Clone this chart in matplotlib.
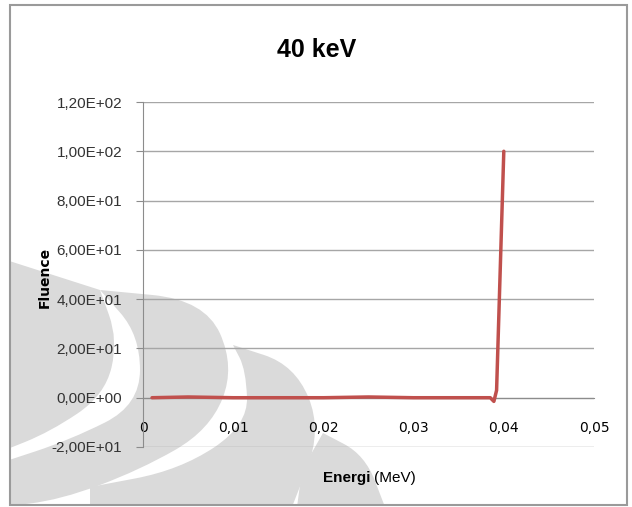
import numpy as np
import matplotlib
matplotlib.use('Agg')
import matplotlib.pyplot as plt
from matplotlib.path import Path
from matplotlib.patches import PathPatch, Rectangle

# Data (energy in MeV, fluence)
energy = [0.001, 0.005, 0.010, 0.015, 0.020, 0.025, 0.030, 0.035, 0.0385, 0.0389, 0.0392, 0.0400]
fluence = [0.0, 0.3, 0.0, 0.0, 0.0, 0.3, 0.0, 0.0, 0.0, -1.5, 3.0, 100.0]

y_ticks = [-20, 0, 20, 40, 60, 80, 100, 120]
y_ticklabels = ['-2,00E+01', '0,00E+00', '2,00E+01', '4,00E+01',
                '6,00E+01', '8,00E+01', '1,00E+02', '1,20E+02']
x_ticks = [0, 0.01, 0.02, 0.03, 0.04, 0.05]
x_ticklabels = ['0', '0,01', '0,02', '0,03', '0,04', '0,05']

W, H = 632, 507
FONT = ['Liberation Sans', 'DejaVu Sans']


def px(x, y):
    # pixel (y down) -> figure fraction
    return (x / W, 1 - y / H)


def blob(pts):
    # smooth closed shape; repeated points give sharp corners
    p = np.array([px(*q) for q in pts])
    n = len(p)
    mids = [(p[i] + p[(i + 1) % n]) / 2 for i in range(n)]
    verts = [mids[-1]]
    codes = [Path.MOVETO]
    for i in range(n):
        verts += [p[i], mids[i]]
        codes += [Path.CURVE3, Path.CURVE3]
    verts.append(mids[-1])
    codes.append(Path.CLOSEPOLY)
    return Path(verts, codes)


fig = plt.figure(figsize=(W / 100, H / 100), dpi=100)

# watermark shapes in the background
frame = Rectangle(px(10, 505), 617 / W, 500 / H, transform=fig.transFigure,
                  fill=False, ec='#9a9a9a', lw=1.5, zorder=5)
shapes = [
    [(0, 258), (0, 258), (100, 290), (100, 290), (118, 340), (105, 395),
     (50, 432), (0, 452), (0, 452)],
    [(100, 290), (100, 290), (205, 300), (235, 367), (210, 430), (140, 470),
     (60, 500), (0, 507), (0, 507), (0, 463), (0, 463), (70, 440),
     (140, 405), (140, 335)],
    [(233, 345), (233, 345), (295, 365), (322, 430), (292, 507), (292, 507),
     (90, 507), (90, 507), (90, 487), (90, 487), (180, 470), (248, 425),
     (246, 370)],
    [(323, 433), (323, 433), (365, 455), (385, 507), (385, 507),
     (297, 507), (297, 507), (302, 470)],
]
for s in shapes:
    patch = PathPatch(blob(s), transform=fig.transFigure, fc='#dadada',
                      ec='none', zorder=0)
    patch.set_clip_path(Rectangle(px(10, 505), 617 / W, 500 / H,
                                  transform=fig.transFigure))
    fig.patches.append(patch)
fig.patches.append(frame)

# plot area
ax = fig.add_axes([143 / W, 1 - 447 / H, 451 / W, 345 / H])
ax.set_facecolor('none')
ax.set_zorder(2)

ax.plot(energy, fluence, color='#c0504d', lw=2.5, solid_capstyle='round',
        solid_joinstyle='round', zorder=3)

ax.set_xlim(0, 0.05)
ax.set_ylim(-20, 120)
ax.set_yticks(y_ticks)
ax.set_yticklabels(y_ticklabels, family=FONT, fontsize=11, color='#333333')
ax.set_xticks(x_ticks)
ax.set_xticklabels(x_ticklabels, family=FONT, fontsize=11, color='#333333')

ax.grid(axis='y', color='#a6a6a6', lw=1)
ax.set_axisbelow(True)
ax.spines['top'].set_visible(False)
ax.spines['right'].set_visible(False)
ax.spines['left'].set_color('#8c8c8c')
ax.spines['bottom'].set_position(('data', 0))
ax.spines['bottom'].set_color('#8c8c8c')
ax.tick_params(axis='y', length=5, color='#8c8c8c', pad=10)
ax.tick_params(axis='x', length=0, pad=17)

# titles and labels
fig.text(*px(317, 50), '40 keV', ha='center', va='center', fontsize=18,
         fontweight='bold', family=FONT)
fig.text(*px(45, 277), 'Fluence', rotation=90, ha='center', va='center',
         fontsize=10, fontweight='bold', family='DejaVu Sans')
fig.text(*px(371, 478), 'Energi', ha='right', va='center', fontsize=11,
         fontweight='bold', family=FONT)
fig.text(*px(374, 478), '(MeV)', ha='left', va='center', fontsize=11,
         family=FONT)

fig.savefig('out.png', dpi=100)
